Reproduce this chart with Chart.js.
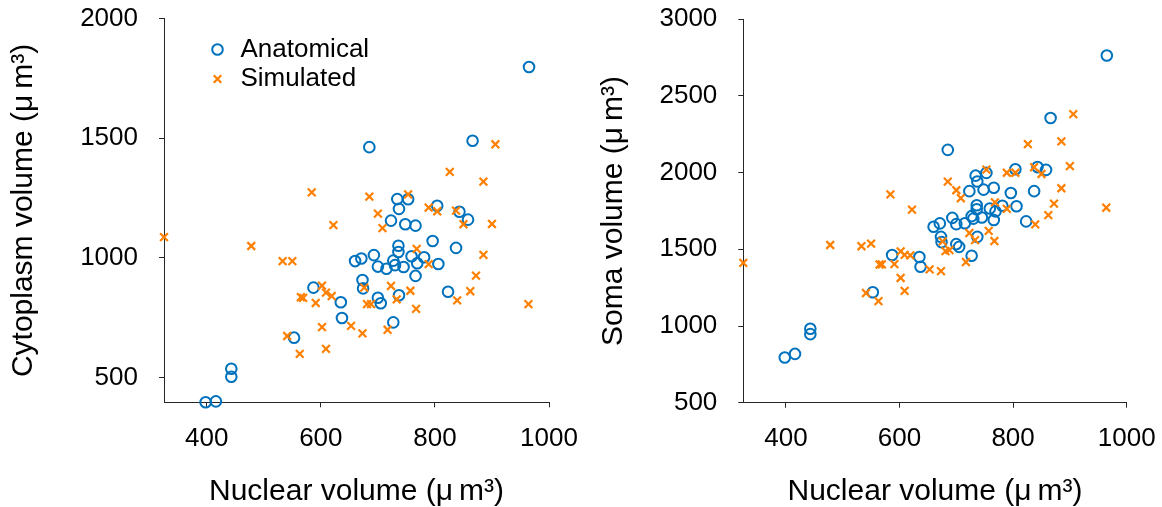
<!DOCTYPE html>
<html>
<head>
<meta charset="utf-8">
<script src="https://cdn.jsdelivr.net/npm/chart.js@4.4.1/dist/chart.umd.min.js"></script>
<style>
  html, body { margin: 0; padding: 0; background: #fff; overflow: hidden; }
  .panel { position: absolute; top: 0; }
  #panel-cyto { left: 0; }
  #panel-soma { left: 581px; }
</style>
</head>
<body>
<div class="panel" id="panel-cyto"><canvas id="cyto-chart" width="581" height="507"></canvas></div>
<div class="panel" id="panel-soma"><canvas id="soma-chart" width="581" height="507"></canvas></div>
<script>
// values (µm³)
const anatNuclear = [398, 416, 443, 443, 553, 587, 635, 637, 660, 671, 673, 674, 685, 693, 700, 700, 705, 715, 723, 727, 727, 730, 734, 736, 736, 737, 737, 745, 748, 753, 759, 766, 766, 769, 781, 796, 804, 806, 823, 837, 843, 858, 866, 965];
const anatCyto = [397, 401, 537, 504, 667, 876, 815, 749, 987, 998, 908, 873, 1463, 1012, 964, 834, 811, 955, 1156, 989, 731, 970, 1246, 1051, 1025, 1205, 844, 962, 1141, 1245, 1007, 1135, 925, 978, 1003, 1071, 1218, 975, 859, 1042, 1193, 1160, 1490, 1798];
const anatSoma = [795, 818, 982, 947, 1220, 1463, 1450, 1386, 1647, 1669, 1581, 1547, 2148, 1705, 1664, 1534, 1516, 1670, 1879, 1716, 1458, 1700, 1980, 1787, 1761, 1942, 1581, 1707, 1889, 1998, 1766, 1901, 1691, 1747, 1784, 1867, 2022, 1781, 1682, 1879, 2036, 2018, 2356, 2763];

const simNuclear = [325, 478, 533, 541, 550, 563, 565, 569, 584, 591, 602, 602, 609, 609, 619, 622, 653, 673, 676, 681, 685, 688, 700, 708, 717, 723, 733, 753, 757, 767, 768, 789, 789, 804, 826, 837, 839, 850, 862, 872, 885, 885, 900, 906, 964];
const simCyto = [1087, 1050, 987, 674, 987, 599, 836, 833, 1274, 812, 884, 711, 855, 620, 841, 1137, 716, 685, 876, 807, 1256, 807, 1185, 1125, 700, 883, 827, 1266, 863, 787, 1038, 1210, 974, 1195, 1360, 1198, 823, 1141, 861, 926, 1319, 1013, 1142, 1475, 807];
const simSoma = [1412, 1528, 1520, 1215, 1537, 1162, 1401, 1402, 1858, 1403, 1486, 1313, 1464, 1229, 1460, 1759, 1369, 1358, 1552, 1488, 1941, 1495, 1885, 1833, 1417, 1606, 1560, 2019, 1620, 1554, 1806, 1999, 1763, 1999, 2186, 2035, 1662, 1991, 1723, 1798, 2204, 1898, 2042, 2381, 1771];

const xTicks = [400, 600, 800, 1000];
const cytoTicks = [500, 1000, 1500, 2000];
const somaTicks = [500, 1000, 1500, 2000, 2500, 3000];

const BLUE = '#0072BD';
const ORANGE = '#FF8000';
const AXIS = '#262626';
const TEXT = '#000';
const FONT = "'Liberation Sans', Arial, Helvetica, sans-serif";

const pairs = (xs, ys) => xs.map((x, i) => ({ x, y: ys[i] }));

// moves the built-in legend to a fixed spot inside the plot area
const legendSpot = {
  id: 'legendSpot',
  afterLayout(chart, args, opts) {
    const lg = chart.legend;
    if (!lg || opts.x == null) return;
    const w = lg.width, h = lg.height;
    lg.left = opts.x; lg.top = opts.y;
    lg.right = opts.x + w; lg.bottom = opts.y + h;
  },
};

const axisStyle = () => ({
  grid: { drawOnChartArea: false, drawTicks: true, tickLength: 5, tickColor: AXIS, lineWidth: 1 },
  border: { display: true, color: AXIS, width: 1 },
});

// keep the plot box where the layout padding says, labels may overhang
const noOverhang = (s) => {
  s.paddingLeft = 0; s.paddingRight = 0; s.paddingTop = 0; s.paddingBottom = 0;
};

const makeChart = (id, cfg) => new Chart(document.getElementById(id), {
  type: 'scatter',
  data: {
    datasets: [
      {
        label: 'Anatomical',
        data: pairs(anatNuclear, cfg.anat),
        pointStyle: 'circle',
        pointRadius: 5.3,
        pointHoverRadius: 5.3,
        borderWidth: 2,
        borderColor: BLUE,
        backgroundColor: 'rgba(0,0,0,0)',
        order: 1,
        clip: false,
      },
      {
        label: 'Simulated',
        data: pairs(simNuclear, cfg.sim),
        pointStyle: 'crossRot',
        pointRadius: 5.5,
        pointHoverRadius: 5.5,
        borderWidth: 2.2,
        borderColor: ORANGE,
        backgroundColor: ORANGE,
        order: 0,
        clip: false,
      },
    ],
  },
  options: {
    responsive: false,
    animation: false,
    events: [],
    layout: { padding: { left: 0, top: cfg.top, right: cfg.right, bottom: 0 } },
    plugins: {
      tooltip: { enabled: false },
      legend: {
        display: cfg.legend,
        position: 'chartArea',
        align: 'start',
        labels: {
          usePointStyle: true,
          boxWidth: 20,
          boxHeight: 7.5,
          padding: 3.5,
          color: TEXT,
          font: { family: FONT, size: 26 },
          sort: (a, b) => a.datasetIndex - b.datasetIndex,
        },
      },
      legendSpot: cfg.legend ? { x: 204, y: 33 } : {},
    },
    scales: {
      x: {
        type: 'linear',
        min: 325,
        max: 1000,
        afterBuildTicks: (s) => { s.ticks = xTicks.map(v => ({ value: v })); },
        afterFit: (s) => { s.height = cfg.xAxisHeight; noOverhang(s); },
        ...axisStyle(),
        ticks: { color: TEXT, font: { family: FONT, size: 26 }, padding: 16, maxRotation: 0, callback: (v) => String(v) },
        title: {
          display: true,
          text: 'Nuclear volume (\u03bc\u2009m\u00b3)',
          color: TEXT,
          font: { family: FONT, size: 30, lineHeight: 1 },
          padding: { top: 0, bottom: 0 },
        },
      },
      y: {
        type: 'linear',
        min: cfg.yMin,
        max: cfg.yMax,
        afterBuildTicks: (s) => { s.ticks = cfg.yTicks.map(v => ({ value: v })); },
        afterFit: (s) => { s.width = cfg.yAxisWidth; noOverhang(s); },
        ...axisStyle(),
        ticks: { color: TEXT, font: { family: FONT, size: 26 }, padding: 21, callback: (v) => String(v) },
        title: {
          display: true,
          text: cfg.yTitle,
          color: TEXT,
          font: { family: FONT, size: 30, lineHeight: 1 },
          padding: { top: cfg.yTitlePad, bottom: 0 },
        },
      },
    },
  },
  plugins: [legendSpot],
});

makeChart('cyto-chart', {
  anat: anatCyto,
  sim: simCyto,
  yMin: 397,
  yMax: 2000,
  yTicks: cytoTicks,
  yTitle: 'Cytoplasm volume (\u03bc\u2009m\u00b3)',
  yTitlePad: 9,
  yAxisWidth: 164,
  xAxisHeight: 104.7,
  top: 18.6,
  right: 32,
  legend: true,
});

makeChart('soma-chart', {
  anat: anatSoma,
  sim: simSoma,
  yMin: 500,
  yMax: 3000,
  yTicks: somaTicks,
  yTitle: 'Soma volume (\u03bc\u2009m\u00b3)',
  yTitlePad: 18,
  yAxisWidth: 162.3,
  xAxisHeight: 104.3,
  top: 19.2,
  right: 35.3,
  legend: false,
});
</script>
</body>
</html>
